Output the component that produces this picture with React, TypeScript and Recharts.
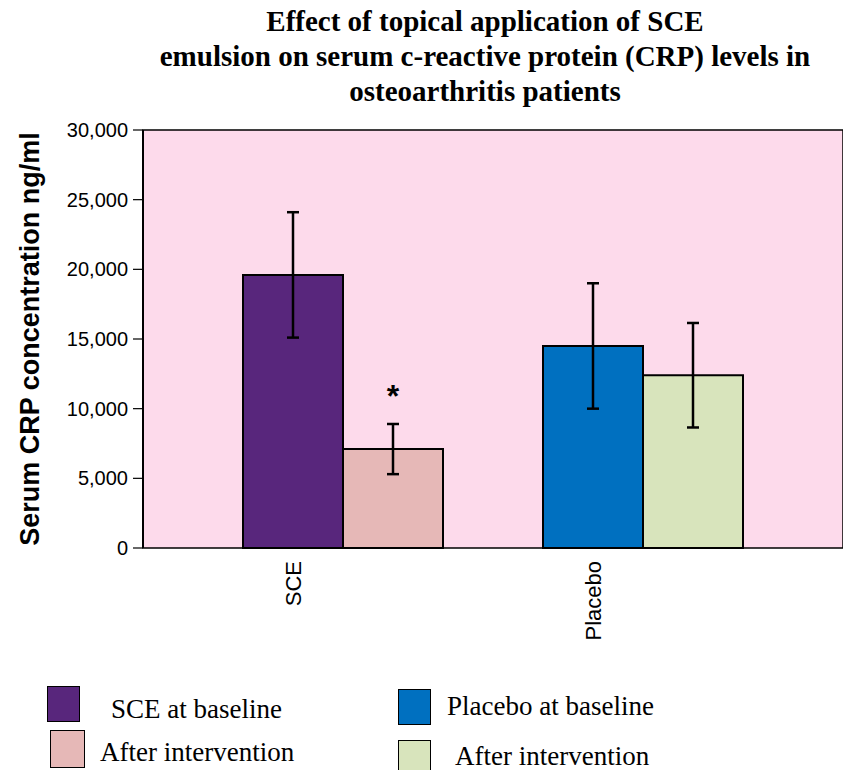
import React from 'react'
import { BarChart, Bar, XAxis, YAxis, Cell, ErrorBar, LabelList, ReferenceArea } from 'recharts'

// Values (ng/ml, mean ± error)
const groups = ['SCE', 'Placebo']
const baseline = [19600, 14500]
const baselineErr = [4500, 4500]
const after = [7100, 12400]
const afterErr = [1800, 3750]
const afterMark = ['*', '']
const yTicks = [0, 5000, 10000, 15000, 20000, 25000, 30000]
const titleLines = [
  'Effect of topical application of SCE',
  'emulsion on serum c-reactive protein (CRP) levels in',
  'osteoarthritis patients',
]

const colors = {
  sceBase: '#58267c',
  sceAfter: '#e6b8b7',
  plBase: '#0070c0',
  plAfter: '#d8e4bc',
  plot: '#fddaeb',
}
const baseColors = [colors.sceBase, colors.plBase]
const afterColors = [colors.sceAfter, colors.plAfter]

// Excel-style layout: one slot per bar, with an empty slot between groups and at each end
type Slot = { slot: number; label: string; value: number | null; err: number | null; fill: string; mark: string }
const rows: Slot[] = [{ slot: 0, label: '', value: null, err: null, fill: 'none', mark: '' }]
groups.forEach((g, i) => {
  rows.push({ slot: rows.length, label: g, value: baseline[i], err: baselineErr[i], fill: baseColors[i], mark: '' })
  rows.push({ slot: rows.length, label: '', value: after[i], err: afterErr[i], fill: afterColors[i], mark: afterMark[i] })
  rows.push({ slot: rows.length, label: '', value: null, err: null, fill: 'none', mark: '' })
})
const edgeTicks = rows.map((r) => r.slot).concat(rows.length)

const legendItems = [
  { label: 'SCE at baseline', color: colors.sceBase, box: { left: 47, top: 686, width: 33, height: 36 }, text: { left: 111, top: 696, lineHeight: '26px' } },
  { label: 'After intervention', color: colors.sceAfter, box: { left: 50, top: 730, width: 35, height: 38 }, text: { left: 100, top: 739, lineHeight: '26px' } },
  { label: 'Placebo at baseline', color: colors.plBase, box: { left: 398, top: 689, width: 33, height: 36 }, text: { left: 447, top: 693, lineHeight: '26px' } },
  { label: 'After intervention', color: colors.plAfter, box: { left: 398, top: 740, width: 33, height: 34 }, text: { left: 455, top: 743, lineHeight: '26px' } },
]

const sans = '"Liberation Sans", Arial, sans-serif'
const serif = '"Liberation Serif", "Times New Roman", serif'

function SlotTick(props: any) {
  const { x, y, payload } = props
  const label = rows[payload.index]?.label ?? ''
  if (!label) return null
  return (
    <text
      x={x}
      y={y}
      transform={`rotate(-90, ${x}, ${y})`}
      textAnchor="end"
      dominantBaseline="central"
      fontSize={22}
      fontFamily={sans}
      fill="#000"
    >
      {label}
    </text>
  )
}

function YLabel(props: any) {
  const { viewBox } = props
  const cx = viewBox.x + 30
  const cy = viewBox.y + viewBox.height / 2
  return (
    <text
      x={cx}
      y={cy}
      transform={`rotate(-90, ${cx}, ${cy})`}
      textAnchor="middle"
      dominantBaseline="central"
      fontSize={27}
      fontWeight="bold"
      fontFamily={sans}
      fill="#000"
    >
      Serum CRP concentration ng/ml
    </text>
  )
}

export default function App() {
  return (
    <div style={{ position: 'absolute', left: 0, top: 0, width: 843, height: 770, background: '#fff', overflow: 'hidden' }}>
      <div
        style={{
          position: 'absolute',
          left: 128,
          top: 4,
          width: 714,
          textAlign: 'center',
          fontFamily: serif,
          fontWeight: 'bold',
          fontSize: 29,
          lineHeight: '35px',
        }}
      >
        {titleLines.map((t) => (
          <div key={t} style={{ whiteSpace: 'nowrap' }}>{t}</div>
        ))}
      </div>

      <div style={{ position: 'absolute', left: 0, top: 0 }}>
        <BarChart
          width={843}
          height={650}
          data={rows}
          margin={{ top: 130, right: 0, bottom: 0, left: 0 }}
          barCategoryGap={0}
          barGap={0}
        >
          <ReferenceArea y1={0} y2={30000} fill={colors.plot} fillOpacity={1} stroke="#000" strokeWidth={1.5} ifOverflow="visible" />
          <XAxis
            xAxisId="edges"
            type="number"
            dataKey="slot"
            domain={[0, rows.length]}
            ticks={edgeTicks}
            tick={false}
            tickSize={7}
            height={0}
            axisLine={{ stroke: '#000', strokeWidth: 2 }}
            tickLine={{ stroke: '#000', strokeWidth: 1.2 }}
          />
          <XAxis
            dataKey="slot"
            type="category"
            axisLine={false}
            tickLine={false}
            tickSize={8}
            tickMargin={5}
            height={102}
            interval={0}
            tick={<SlotTick />}
          />
          <YAxis
            domain={[0, 30000]}
            ticks={yTicks}
            interval={0}
            width={143}
            tickSize={10}
            tickMargin={5}
            tickFormatter={(v: number) => v.toLocaleString('en-US')}
            tick={{ fontSize: 20, fontFamily: sans, fill: '#000' }}
            axisLine={{ stroke: '#000', strokeWidth: 2 }}
            tickLine={{ stroke: '#000', strokeWidth: 1.2 }}
            label={<YLabel />}
          />
          <Bar dataKey="value" stroke="#000" strokeWidth={2} isAnimationActive={false}>
            {rows.map((r) => (
              <Cell key={r.slot} fill={r.fill} />
            ))}
            <ErrorBar dataKey="err" width={6} stroke="#000" strokeWidth={2.5} direction="y" />
            <LabelList dataKey="mark" position="top" offset={42} fontSize={32} fontWeight="bold" fontFamily={sans} fill="#000" />
          </Bar>
        </BarChart>
      </div>

      {legendItems.map((item, i) => (
        <React.Fragment key={i}>
          <div
            style={{
              position: 'absolute',
              ...item.box,
              boxSizing: 'border-box',
              background: item.color,
              border: '1.5px solid #000',
            }}
          />
          <div
            style={{
              position: 'absolute',
              ...item.text,
              fontFamily: serif,
              fontSize: 27,
              whiteSpace: 'nowrap',
            }}
          >
            {item.label}
          </div>
        </React.Fragment>
      ))}
    </div>
  )
}
